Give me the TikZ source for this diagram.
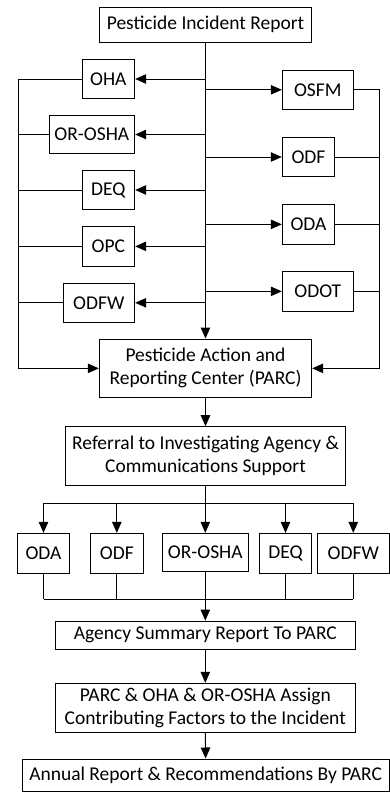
\documentclass[tikz,border=0pt]{standalone}
\usepackage{fontspec}
\setmainfont{Carlito}
\usetikzlibrary{arrows.meta}
\begin{document}
\begin{tikzpicture}[x=1pt,y=-1pt,
  box/.style={draw, line width=1pt, inner sep=0pt, align=center,
    font=\fontsize{19.5}{23}\selectfont},
  arr/.style={-{Triangle[length=11pt,width=9.5pt]}, line width=1pt},
  ln/.style={line width=1pt}]
\useasboundingbox (0,0) rectangle (390,792);
% top
\node[box, minimum width=212.4pt, minimum height=35pt] (top) at (205.5,24.8) {Pesticide Incident Report};
% left agencies
\node[box, minimum width=52.7pt, minimum height=39.4pt] (oha) at (108.35,79) {OHA};
\node[box, minimum width=85.7pt, minimum height=37.6pt] (orosha) at (91.85,134.5) {OR-OSHA};
\node[box, minimum width=52.7pt, minimum height=38.6pt] (deq) at (108.35,190) {DEQ};
\node[box, minimum width=52.7pt, minimum height=39.3pt] (opc) at (108.35,246.35) {OPC};
\node[box, minimum width=71.7pt, minimum height=39pt] (odfw) at (98.85,302.8) {ODFW};
% right agencies
\node[box, minimum width=71pt, minimum height=39pt] (osfm) at (317.8,89.8) {OSFM};
\node[box, minimum width=52.4pt, minimum height=39.4pt] (odf) at (308.5,157) {ODF};
\node[box, minimum width=52.4pt, minimum height=39.3pt] (oda) at (308.5,224.35) {ODA};
\node[box, minimum width=71pt, minimum height=39.3pt] (odot) at (317.8,291.35) {ODOT};
% PARC
\node[box, minimum width=212.4pt, minimum height=58.7pt] (parc) at (205.5,368.35) {Pesticide Action and\\Reporting Center (PARC)};
\node[box, minimum width=279.6pt, minimum height=58.6pt] (ref) at (205.5,456) {Referral to Investigating Agency \&\\Communications Support};
% bottom row
\node[box, minimum width=52.4pt, minimum height=39.7pt] (boda) at (43.5,553.2) {ODA};
\node[box, minimum width=53pt, minimum height=39.7pt] (bodf) at (116.8,553.2) {ODF};
\node[box, minimum width=86pt, minimum height=38.4pt] (borosha) at (205.3,552.5) {OR-OSHA};
\node[box, minimum width=52.4pt, minimum height=39.7pt] (bdeq) at (285.5,553.2) {DEQ};
\node[box, minimum width=72pt, minimum height=39.7pt] (bodfw) at (353.3,553.2) {ODFW};
% lower chain
\node[box, minimum width=300pt, minimum height=28.3pt] (agency) at (205.3,635.2) {Agency Summary Report To PARC};
\node[box, minimum width=300pt, minimum height=49pt] (assign) at (205.3,707.8) {PARC \& OHA \& OR-OSHA Assign\\Contributing Factors to the Incident};
\node[box, minimum width=367.3pt, minimum height=32.7pt] (annual) at (205.65,775.35) {Annual Report \& Recommendations By PARC};
% buses
\coordinate (lbus) at (18.3,0);
\coordinate (rbus) at (379.7,0);
\coordinate (bar1) at (0,503.3);
\coordinate (bar2) at (0,599);
% central trunk
\draw[arr] (top.south) -- (parc.north);
\foreach \n in {oha,orosha,deq,opc,odfw}{
  \draw[arr] (top.south |- \n.east) -- (\n.east);
  \draw[ln] (\n.west) -- (lbus |- \n.west);
}
\foreach \n in {osfm,odf,oda,odot}{
  \draw[arr] (top.south |- \n.west) -- (\n.west);
  \draw[ln] (\n.east) -- (rbus |- \n.east);
}
\draw[arr] (lbus |- oha.west) -- (lbus |- parc.west) -- (parc.west);
\draw[arr] (rbus |- osfm.east) -- (rbus |- parc.east) -- (parc.east);
\draw[arr] (parc.south) -- (ref.south |- ref.north);
% referral fan-out
\draw[ln] (ref.south) -- (ref.south |- bar1);
\draw[ln] (boda.north |- bar1) -- (bodfw.north |- bar1);
\foreach \n in {boda,bodf,borosha,bdeq,bodfw}{
  \draw[arr] (\n.north |- bar1) -- (\n.north);
  \draw[ln] (\n.south) -- (\n.south |- bar2);
}
\draw[ln] (boda.south |- bar2) -- (bodfw.south |- bar2);
\draw[arr] (borosha.south |- bar2) -- (agency.north);
\draw[arr] (agency.south) -- (assign.north);
\draw[arr] (assign.south) -- (annual.north);
\end{tikzpicture}
\end{document}
